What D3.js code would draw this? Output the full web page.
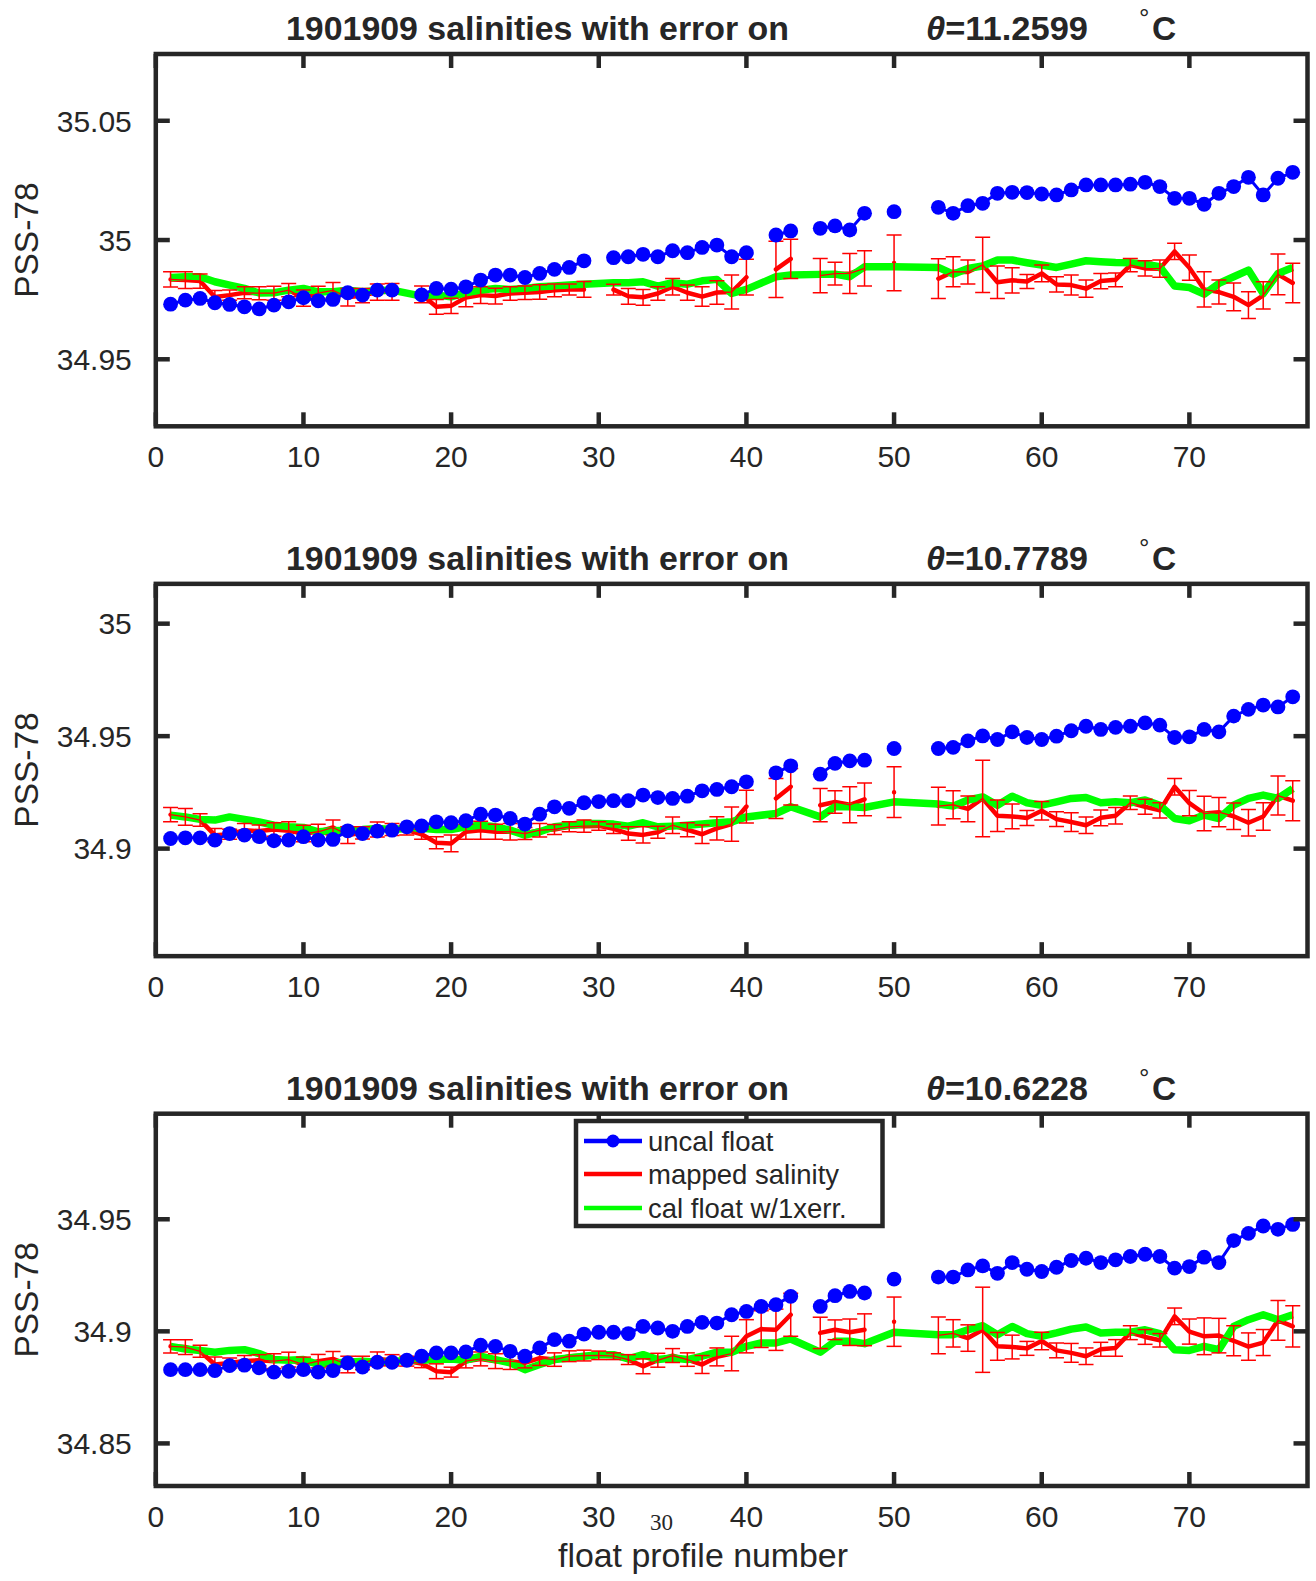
<!DOCTYPE html>
<html><head><meta charset="utf-8">
<script src="https://cdn.jsdelivr.net/npm/d3@7"></script>
<style>
body{margin:0;background:#fff}
svg{display:block}
text{font-family:"Liberation Sans",Arial,Helvetica,sans-serif;fill:#262626}
</style>
</head><body>
<svg id="chart" width="1316" height="1581"></svg>
<script>
// ---------- data ----------
const profiles = d3.range(1, 78); // float profile numbers 1..77
const xTicks = [0, 10, 20, 30, 40, 50, 60, 70];
const xLim = [0, 78];
const thetas = ["11.2599", "10.7789", "10.6228"];
const titleText = "1901909 salinities with error on";
const yLabel = "PSS-78";
const xLabel = "float profile number";
const legendLabels = ["uncal float", "mapped salinity", "cal float w/1xerr."];

// panel 1 (theta = 11.2599)
const p1YLim = [34.9219, 35.0780];
const p1YTicks = [34.95, 35, 35.05];
const p1YTickLabels = ["34.95", "35", "35.05"];
const p1Uncal = [34.9731,34.9748,34.9755,34.9737,34.9730,34.9720,34.9711,34.9727,34.9741,34.9758,
34.9745,34.9751,34.9779,34.9769,34.9790,34.9790,null,34.9770,34.9797,34.9794,
34.9804,34.9832,34.9853,34.9853,34.9843,34.9860,34.9877,34.9885,34.9913,null,
34.9926,34.9930,34.9940,34.9930,34.9955,34.9947,34.9969,34.9979,34.9930,34.9947,
null,35.0021,35.0038,null,35.0049,35.0059,35.0042,35.0112,null,35.0119,
null,null,35.0137,35.0112,35.0144,35.0154,35.0196,35.0200,35.0199,35.0193,
35.0189,35.0210,35.0231,35.0231,35.0231,35.0234,35.0242,35.0224,35.0175,35.0175,
35.0150,35.0196,35.0224,35.0263,35.0189,35.0259,35.0284];
const p1Mapped = [34.9835,34.9832,34.9828,34.9761,34.9769,34.9779,34.9777,34.9777,34.9790,34.9756,
34.9777,34.9789,34.9760,34.9767,34.9782,34.9783,null,34.9772,34.9720,34.9724,
34.9759,34.9769,34.9765,34.9776,34.9779,34.9782,34.9789,34.9793,34.9793,null,
34.9792,34.9764,34.9760,34.9776,34.9804,34.9779,34.9763,34.9780,34.9782,34.9844,
null,34.9877,34.9921,null,34.9851,34.9859,34.9860,34.9881,null,34.9904,
null,null,34.9838,34.9867,34.9866,34.9896,34.9823,34.9831,34.9826,34.9860,
34.9814,34.9811,34.9796,34.9828,34.9833,34.9895,34.9881,34.9880,34.9952,34.9884,
34.9793,34.9782,34.9762,34.9727,34.9768,34.9856,34.9820];
const p1MapErr = [0.0032,0.0035,0.0030,0.0027,0.0021,0.0025,0.0027,0.0029,0.0028,0.0034,
0.0029,0.0033,0.0037,0.0030,0.0034,0.0035,null,0.0035,0.0031,0.0032,
0.0039,0.0035,0.0033,0.0028,0.0028,0.0030,0.0027,0.0023,0.0033,null,
0.0023,0.0033,0.0033,0.0028,0.0035,0.0032,0.0041,0.0049,0.0071,0.0075,
null,0.0118,0.0082,null,0.0072,0.0048,0.0084,0.0074,null,0.0117,
null,null,0.0083,0.0063,0.0050,0.0116,0.0068,0.0053,0.0029,0.0035,
0.0032,0.0042,0.0036,0.0032,0.0029,0.0028,0.0032,0.0036,0.0034,0.0053,
0.0074,0.0050,0.0058,0.0056,0.0057,0.0085,0.0083];
const p1Cal = [34.9843,34.9846,34.9846,34.9825,34.9811,34.9797,34.9778,34.9779,34.9790,34.9797,
34.9783,34.9783,34.9790,34.9783,34.9787,34.9790,null,34.9765,34.9769,34.9762,
34.9779,34.9790,34.9797,34.9793,34.9797,34.9804,34.9807,34.9811,34.9815,null,
34.9821,34.9821,34.9825,34.9807,34.9821,34.9815,34.9829,34.9835,34.9776,34.9793,
null,34.9846,34.9853,null,34.9856,34.9857,34.9846,34.9888,null,34.9888,
null,null,34.9885,34.9857,34.9881,34.9891,34.9916,34.9916,34.9905,34.9895,
34.9885,34.9899,34.9913,34.9909,34.9906,34.9905,34.9899,34.9888,34.9807,34.9801,
34.9773,34.9818,34.9846,34.9874,34.9776,34.9860,34.9885];

// panel 2 (theta = 10.7789)
const p2YLim = [34.8522, 35.0177];
const p2YTicks = [34.9, 34.95, 35];
const p2YTickLabels = ["34.9", "34.95", "35"];
const p2Uncal = [34.9045,34.9048,34.9048,34.9038,34.9067,34.9060,34.9053,34.9035,34.9038,34.9053,
34.9038,34.9041,34.9079,34.9067,34.9078,34.9082,34.9097,34.9101,34.9119,34.9115,
34.9124,34.9153,34.9149,34.9134,34.9109,34.9153,34.9186,34.9179,34.9204,34.9209,
34.9213,34.9213,34.9238,34.9227,34.9223,34.9233,34.9257,34.9263,34.9275,34.9297,
null,34.9337,34.9368,null,34.9331,34.9379,34.9390,34.9393,null,34.9445,
null,null,34.9445,34.9450,34.9479,34.9501,34.9485,34.9519,34.9494,34.9485,
34.9500,34.9524,34.9544,34.9530,34.9539,34.9544,34.9559,34.9549,34.9494,34.9497,
34.9530,34.9519,34.9589,34.9619,34.9638,34.9630,34.9675];
const p2Mapped = [34.9151,34.9141,34.9127,34.9060,34.9064,34.9082,34.9078,34.9085,34.9079,34.9067,
34.9075,34.9094,34.9060,34.9070,34.9085,34.9085,34.9082,34.9064,34.9026,34.9023,
34.9075,34.9082,34.9075,34.9075,34.9067,34.9082,34.9085,34.9097,34.9100,34.9101,
34.9088,34.9067,34.9061,34.9073,34.9104,34.9084,34.9064,34.9090,34.9109,34.9187,
null,34.9223,34.9275,null,34.9193,34.9207,34.9195,34.9219,null,34.9251,
null,null,34.9189,34.9195,34.9177,34.9223,34.9146,34.9143,34.9136,34.9168,
34.9131,34.9118,34.9104,34.9137,34.9146,34.9204,34.9186,34.9170,34.9275,34.9202,
34.9156,34.9162,34.9144,34.9115,34.9143,34.9236,34.9213];
const p2MapErr = [0.0032,0.0037,0.0028,0.0030,0.0022,0.0030,0.0027,0.0030,0.0040,0.0037,
0.0033,0.0033,0.0037,0.0027,0.0033,0.0027,0.0022,0.0022,0.0027,0.0037,
0.0033,0.0040,0.0033,0.0037,0.0027,0.0030,0.0022,0.0022,0.0027,0.0019,
0.0021,0.0030,0.0036,0.0027,0.0037,0.0031,0.0041,0.0052,0.0076,0.0073,
null,0.0089,0.0081,null,0.0074,0.0050,0.0080,0.0073,null,0.0113,
null,null,0.0084,0.0062,0.0057,0.0170,0.0070,0.0055,0.0033,0.0041,
0.0033,0.0042,0.0037,0.0035,0.0037,0.0030,0.0033,0.0034,0.0037,0.0056,
0.0077,0.0065,0.0059,0.0059,0.0061,0.0087,0.0089];
const p2Cal = [34.9149,34.9141,34.9130,34.9127,34.9141,34.9130,34.9119,34.9104,34.9097,34.9094,
34.9075,34.9079,34.9082,34.9085,34.9090,34.9085,34.9090,34.9090,34.9085,34.9085,
34.9097,34.9104,34.9097,34.9082,34.9060,34.9075,34.9097,34.9104,34.9112,34.9112,
34.9109,34.9100,34.9115,34.9097,34.9100,34.9104,34.9109,34.9115,34.9119,34.9141,
null,34.9156,34.9186,null,34.9141,34.9186,34.9186,34.9183,null,34.9208,
null,null,34.9198,34.9189,34.9216,34.9230,34.9193,34.9233,34.9204,34.9193,
34.9208,34.9223,34.9227,34.9204,34.9208,34.9204,34.9216,34.9193,34.9134,34.9124,
34.9149,34.9134,34.9193,34.9223,34.9238,34.9223,34.9267];

// panel 3 (theta = 10.6228)
const p3YLim = [34.8310, 34.9971];
const p3YTicks = [34.85, 34.9, 34.95];
const p3YTickLabels = ["34.85", "34.9", "34.95"];
const p3Uncal = [34.8829,34.8829,34.8829,34.8825,34.8847,34.8849,34.8837,34.8818,34.8822,34.8829,
34.8818,34.8825,34.8859,34.8841,34.8862,34.8862,34.8871,34.8889,34.8904,34.8904,
34.8908,34.8938,34.8933,34.8911,34.8889,34.8926,34.8963,34.8956,34.8988,34.8996,
34.8996,34.8990,34.9022,34.9015,34.9000,34.9022,34.9040,34.9037,34.9074,34.9089,
34.9111,34.9119,34.9156,null,34.9111,34.9159,34.9178,34.9171,null,34.9233,
null,null,34.9242,34.9242,34.9274,34.9292,34.9259,34.9307,34.9277,34.9267,
34.9286,34.9316,34.9326,34.9307,34.9319,34.9334,34.9344,34.9334,34.9282,34.9289,
34.9331,34.9307,34.9405,34.9437,34.9470,34.9455,34.9477];
const p3Mapped = [34.8933,34.8930,34.8911,34.8852,34.8859,34.8868,34.8871,34.8867,34.8874,34.8852,
34.8867,34.8877,34.8852,34.8859,34.8877,34.8871,34.8867,34.8856,34.8822,34.8818,
34.8867,34.8877,34.8867,34.8867,34.8859,34.8881,34.8874,34.8889,34.8892,34.8893,
34.8889,34.8874,34.8844,34.8871,34.8892,34.8874,34.8852,34.8886,34.8901,34.8978,
34.9010,34.9007,34.9074,null,34.8993,34.9007,34.8996,34.9007,null,34.9043,
null,null,34.8982,34.8991,34.8970,34.9007,34.8933,34.8930,34.8924,34.8957,
34.8915,34.8904,34.8889,34.8920,34.8926,34.8994,34.8975,34.8960,34.9067,34.8999,
34.8978,34.8981,34.8958,34.8932,34.8950,34.9049,34.9022];
const p3MapErr = [0.0030,0.0033,0.0027,0.0033,0.0022,0.0024,0.0025,0.0033,0.0033,0.0033,
0.0030,0.0033,0.0037,0.0030,0.0031,0.0025,0.0022,0.0018,0.0033,0.0022,
0.0030,0.0031,0.0033,0.0037,0.0022,0.0033,0.0030,0.0024,0.0024,0.0019,
0.0015,0.0022,0.0033,0.0031,0.0031,0.0030,0.0040,0.0040,0.0077,0.0074,
0.0082,0.0092,0.0096,null,0.0070,0.0044,0.0059,0.0071,null,0.0110,
null,null,0.0082,0.0061,0.0059,0.0190,0.0062,0.0053,0.0031,0.0039,
0.0033,0.0042,0.0037,0.0031,0.0037,0.0031,0.0033,0.0030,0.0037,0.0056,
0.0082,0.0077,0.0067,0.0061,0.0058,0.0089,0.0092];
const p3Cal = [34.8933,34.8921,34.8915,34.8907,34.8915,34.8918,34.8901,34.8874,34.8871,34.8874,
34.8852,34.8859,34.8862,34.8867,34.8862,34.8862,34.8874,34.8871,34.8874,34.8877,
34.8871,34.8889,34.8874,34.8859,34.8829,34.8852,34.8874,34.8881,34.8889,34.8896,
34.8896,34.8877,34.8896,34.8874,34.8881,34.8874,34.8889,34.8907,34.8907,34.8933,
34.8948,34.8948,34.8966,null,34.8907,34.8956,34.8956,34.8945,null,34.8996,
null,null,34.8985,34.8985,34.9007,34.9025,34.8985,34.9022,34.8990,34.8978,
34.8993,34.9010,34.9019,34.8993,34.8996,34.8996,34.9007,34.8990,34.8918,34.8915,
34.8933,34.8918,34.9022,34.9052,34.9074,34.9052,34.9074];

// ---------- layout / style ----------
const AX = "#262626";
const BLUE = "#0000ff", RED = "#ff0000", GREEN = "#00ff00";
const plotLeft = 155.8, plotRight = 1307.5, plotH = 372.3;
const panelTops = [54, 583.85, 1113.7];
const tickFont = 30, labelFont = 33.5;

const panels = [
  {theta: thetas[0], uncal: p1Uncal, mapped: p1Mapped, err: p1MapErr, cal: p1Cal, yLim: p1YLim, yTicks: p1YTicks, yTickLabels: p1YTickLabels},
  {theta: thetas[1], uncal: p2Uncal, mapped: p2Mapped, err: p2MapErr, cal: p2Cal, yLim: p2YLim, yTicks: p2YTicks, yTickLabels: p2YTickLabels},
  {theta: thetas[2], uncal: p3Uncal, mapped: p3Mapped, err: p3MapErr, cal: p3Cal, yLim: p3YLim, yTicks: p3YTicks, yTickLabels: p3YTickLabels, legend: true}
];

const svg = d3.select("#chart");
svg.append("rect").attr("width", 1316).attr("height", 1581).attr("fill", "#fff");

const x = d3.scaleLinear().domain(xLim).range([plotLeft, plotRight]);

panels.forEach((p, i) => {
  const top = panelTops[i];
  const g = svg.append("g").attr("transform", `translate(0,${top})`);
  const y = d3.scaleLinear().domain(p.yLim).range([plotH, 0]);
  const rows = profiles.map((n, k) => ({n, u: p.uncal[k], m: p.mapped[k], e: p.err[k], c: p.cal[k]}));

  const clipId = "clip" + i;
  g.append("clipPath").attr("id", clipId).append("rect")
    .attr("x", plotLeft).attr("y", 0).attr("width", plotRight - plotLeft).attr("height", plotH);
  const data = g.append("g").attr("clip-path", `url(#${clipId})`);

  // thick mapped salinity line
  data.append("path")
    .attr("d", d3.line().defined(d => d.m != null).x(d => x(d.n)).y(d => y(d.m))(rows))
    .attr("fill", "none").attr("stroke", RED).attr("stroke-width", 4.5)
    .attr("stroke-linejoin", "round").attr("stroke-linecap", "round");

  // calibrated float band
  data.append("path")
    .attr("d", d3.line().x(d => x(d.n)).y(d => y(d.c))(rows.filter(d => d.c != null)))
    .attr("fill", "none").attr("stroke", GREEN).attr("stroke-width", 7.5)
    .attr("stroke-linejoin", "round");

  // error bars (thin)
  data.append("path")
    .attr("d", d3.line().defined(d => d.m != null).x(d => x(d.n)).y(d => y(d.m))(rows))
    .attr("fill", "none").attr("stroke", RED).attr("stroke-width", 1.3);
  const eb = data.append("g").attr("stroke", RED).attr("stroke-width", 1.5)
    .selectAll("g").data(rows.filter(d => d.m != null)).join("g");
  eb.append("line").attr("x1", d => x(d.n)).attr("x2", d => x(d.n))
    .attr("y1", d => y(d.m - d.e)).attr("y2", d => y(d.m + d.e));
  eb.append("line").attr("x1", d => x(d.n) - 7.5).attr("x2", d => x(d.n) + 7.5)
    .attr("y1", d => y(d.m + d.e)).attr("y2", d => y(d.m + d.e));
  eb.append("line").attr("x1", d => x(d.n) - 7.5).attr("x2", d => x(d.n) + 7.5)
    .attr("y1", d => y(d.m - d.e)).attr("y2", d => y(d.m - d.e));

  // uncalibrated float: line + dots
  data.append("path")
    .attr("d", d3.line().defined(d => d.u != null).x(d => x(d.n)).y(d => y(d.u))(rows))
    .attr("fill", "none").attr("stroke", BLUE).attr("stroke-width", 3);
  data.append("g").selectAll("circle").data(rows.filter(d => d.u != null)).join("circle")
    .attr("cx", d => x(d.n)).attr("cy", d => y(d.u)).attr("r", 7.4).attr("fill", BLUE);

  // axes box + ticks (inward on all four sides)
  const axG = g.append("g").attr("stroke", AX).attr("stroke-width", 4.5);
  xTicks.forEach(t => {
    axG.append("line").attr("x1", x(t)).attr("x2", x(t)).attr("y1", plotH).attr("y2", plotH - 14);
    axG.append("line").attr("x1", x(t)).attr("x2", x(t)).attr("y1", 0).attr("y2", 14);
  });
  p.yTicks.forEach(t => {
    axG.append("line").attr("x1", plotLeft).attr("x2", plotLeft + 14).attr("y1", y(t)).attr("y2", y(t));
    axG.append("line").attr("x1", plotRight).attr("x2", plotRight - 14).attr("y1", y(t)).attr("y2", y(t));
  });
  axG.append("rect").attr("x", plotLeft).attr("y", 0).attr("width", plotRight - plotLeft).attr("height", plotH)
    .attr("fill", "none").attr("stroke-linejoin", "miter");

  // tick labels
  g.append("g").selectAll("text").data(xTicks).join("text")
    .attr("x", d => x(d)).attr("y", plotH + 41).attr("text-anchor", "middle")
    .attr("font-size", tickFont).text(d => d);
  g.append("g").selectAll("text").data(p.yTicks).join("text")
    .attr("x", plotLeft - 24).attr("y", d => y(d)).attr("dy", "0.36em").attr("text-anchor", "end")
    .attr("font-size", tickFont).text((d, k) => p.yTickLabels[k]);

  // y label
  g.append("text").attr("transform", `translate(38,${plotH / 2}) rotate(-90)`)
    .attr("text-anchor", "middle").attr("font-size", labelFont).text(yLabel);

  // title
  g.append("text").attr("x", 286).attr("y", -14).attr("font-size", labelFont).attr("font-weight", "bold")
    .attr("textLength", 503).attr("lengthAdjust", "spacingAndGlyphs").text(titleText);
  const tt = g.append("text").attr("x", 926).attr("y", -14).attr("font-size", labelFont).attr("font-weight", "bold")
    .attr("textLength", 162).attr("lengthAdjust", "spacingAndGlyphs");
  tt.append("tspan").attr("font-style", "italic").text("\u03B8");
  tt.append("tspan").text("=" + p.theta);
  g.append("text").attr("x", 1139).attr("y", -27).attr("font-size", 26).text("\u00B0");
  g.append("text").attr("x", 1152).attr("y", -14).attr("font-size", labelFont).attr("font-weight", "bold").text("C");

  // legend
  if (p.legend) {
    const L = g.append("g").attr("transform", `translate(0,${-top})`);
    L.append("rect").attr("x", 576).attr("y", 1121).attr("width", 306.5).attr("height", 105)
      .attr("fill", "#fff").attr("stroke", AX).attr("stroke-width", 4.5);
    const rowsY = [1141, 1174, 1208];
    const cols = [BLUE, RED, GREEN];
    legendLabels.forEach((lab, k) => {
      L.append("line").attr("x1", 584).attr("x2", 642).attr("y1", rowsY[k]).attr("y2", rowsY[k])
        .attr("stroke", cols[k]).attr("stroke-width", 4.5);
      if (k === 0) L.append("circle").attr("cx", 613).attr("cy", rowsY[k]).attr("r", 6.5).attr("fill", BLUE);
      L.append("text").attr("x", 648).attr("y", rowsY[k]).attr("dy", "0.36em")
        .attr("font-size", 27.5).text(lab);
    });
  }
});

// figure-level annotations
svg.append("text").attr("x", 558).attr("y", 1567).attr("font-size", labelFont)
  .attr("textLength", 290).attr("lengthAdjust", "spacingAndGlyphs").text(xLabel);
svg.append("text").attr("x", 661.5).attr("y", 1530).attr("text-anchor", "middle")
  .attr("font-size", 23).style("font-family", "'Liberation Serif','Times New Roman',serif").text("30");
</script>
</body></html>
